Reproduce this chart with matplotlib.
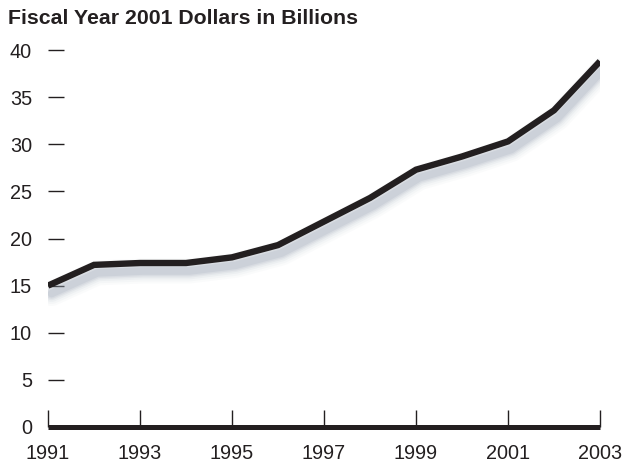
import matplotlib
matplotlib.use("Agg")
import matplotlib.pyplot as plt
import matplotlib.transforms as mtransforms

years = [1991, 1992, 1993, 1994, 1995, 1996, 1997, 1998, 1999, 2000, 2001, 2002, 2003]
values = [15.0, 17.2, 17.4, 17.4, 18.0, 19.3, 21.8, 24.3, 27.3, 28.7, 30.3, 33.6, 38.8]
xticks = [1991, 1993, 1995, 1997, 1999, 2001, 2003]
yticks = [0, 5, 10, 15, 20, 25, 30, 35, 40]
title = "Fiscal Year 2001 Dollars in Billions"

plt.rcParams['font.family'] = ['Liberation Sans', 'DejaVu Sans']
ink = '#231f20'

fig = plt.figure(figsize=(6.26, 4.68), dpi=100)
ax = fig.add_axes([48/626, 1-427/468, 552/626, 377/468])
ax.set_xlim(1991, 2003)
ax.set_ylim(0, 40)

# blurred shadow emulation
shadow_color = (0.58, 0.62, 0.68)
off = ax.transData + mtransforms.ScaledTranslation(3.5/100, -8/100, fig.dpi_scale_trans)
for lw, a in [(18, 0.04), (15, 0.05), (12, 0.08), (9.5, 0.10), (7.5, 0.13), (5.5, 0.17)]:
    ax.plot(years, values, color=shadow_color, lw=lw, alpha=a, solid_capstyle='round',
            solid_joinstyle='round', zorder=2, transform=off)
ax.plot(years, values, color=ink, lw=4.6, solid_capstyle='butt', solid_joinstyle='miter', zorder=3)

for s in ['top', 'right', 'left']:
    ax.spines[s].set_visible(False)
ax.spines['bottom'].set_linewidth(3.6)
ax.spines['bottom'].set_color(ink)
ax.spines['bottom'].set_capstyle('butt')

ax.set_xticks(xticks)
ax.set_xticklabels([str(t) for t in xticks], fontsize=14.3)
ax.tick_params(axis='x', direction='in', length=12.5, width=1, color=ink, pad=12, labelcolor=ink)

ax.set_yticks(yticks)
ax.set_yticklabels([str(t) for t in yticks], fontsize=14.3)
ax.tick_params(axis='y', direction='in', length=11.5, width=1, color=ink, pad=11.5, labelcolor=ink, left=True)
ax.yaxis.get_major_ticks()[0].tick1line.set_visible(False)

fig.text(8/626, 1-18/468, title, fontsize=15.3, fontweight='bold', color=ink, ha='left', va='center')

fig.savefig("out.png", dpi=100)
